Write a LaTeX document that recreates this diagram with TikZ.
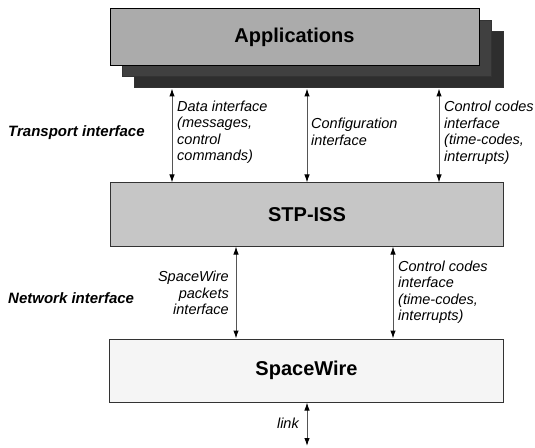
\documentclass[tikz,border=0pt]{standalone}
\usepackage{fontspec}
\setmainfont{Liberation Sans}
\usetikzlibrary{arrows.meta}
\definecolor{appfront}{HTML}{ABABAB}
\definecolor{appmid}{HTML}{404040}
\definecolor{appback}{HTML}{2E2E2E}
\definecolor{stpfill}{HTML}{C6C6C6}
\definecolor{swfill}{HTML}{F5F5F5}
\definecolor{edge}{HTML}{333333}
\definecolor{shaft}{HTML}{555555}
\tikzset{
  layerbox/.style={draw=edge, line width=1bp, inner sep=0pt},
  titletext/.style={font=\fontsize{20bp}{24bp}\selectfont\bfseries},
  notetext/.style={font=\fontsize{14.5bp}{16.5bp}\selectfont\itshape, inner sep=0pt},
  sidetext/.style={font=\fontsize{15bp}{18bp}\selectfont\bfseries\itshape, inner sep=0pt},
  biarrow/.style={draw=shaft, line width=1bp, {Latex[length=8bp,width=5.5bp,black]}-{Latex[length=8bp,width=5.5bp,black]}},
}
\begin{document}
\begin{tikzpicture}[x=1bp,y=-1bp]
\useasboundingbox (0,0) rectangle (535,448);
% Applications stack
\node[layerbox, fill=appback, minimum width=369bp, minimum height=56bp] (app3) at (318.5,60) {};
\node[layerbox, fill=appmid, minimum width=369bp, minimum height=56bp] (app2) at (306.5,49) {};
\node[layerbox, fill=appfront, draw=black, minimum width=369bp, minimum height=57bp, titletext] (app1) at (294.5,37.5) {Applications};
% STP-ISS
\node[layerbox, fill=stpfill, minimum width=392bp, minimum height=63bp, titletext] (stp) at (307,214.5) {STP-ISS};
% SpaceWire
\node[layerbox, fill=swfill, minimum width=393bp, minimum height=63bp, titletext] (sw) at (306.5,370.5) {SpaceWire};
\coordinate (linkend) at (307,446);
% Upper arrows
\draw[biarrow] (172,0 |- app3.south) -- (172,0 |- stp.north);
\draw[biarrow] (307,0 |- app3.south) -- (307,0 |- stp.north);
\draw[biarrow] (439,0 |- app3.south) -- (439,0 |- stp.north);
% Lower arrows
\draw[biarrow] (236,0 |- stp.south) -- (236,0 |- sw.north);
\draw[biarrow] (393,0 |- stp.south) -- (393,0 |- sw.north);
% Link
\draw[biarrow] (307,0 |- sw.south) -- (linkend);
% Labels
\node[notetext, anchor=west, align=left] (dl) at (177,132) {Data interface\\(messages,\\control\\commands)};
\node[notetext, anchor=west, align=left] (cl) at (311,132) {Configuration\\interface};
\node[notetext, anchor=west, align=left] (ccl) at (444,133) {Control codes\\interface\\(time-codes,\\interrupts)};
\node[notetext, anchor=east, align=right] (spl) at (229,293) {SpaceWire\\packets\\interface};
\node[notetext, anchor=west, align=left] (ccl2) at (398,292) {Control codes\\interface\\(time-codes,\\interrupts)};
\node[notetext, anchor=east] (ll) at (299,423) {link};
\node[sidetext, anchor=west] (ti) at (8,133) {Transport interface};
\node[sidetext, anchor=west] (ni) at (8,298) {Network interface};
\end{tikzpicture}
\end{document}
